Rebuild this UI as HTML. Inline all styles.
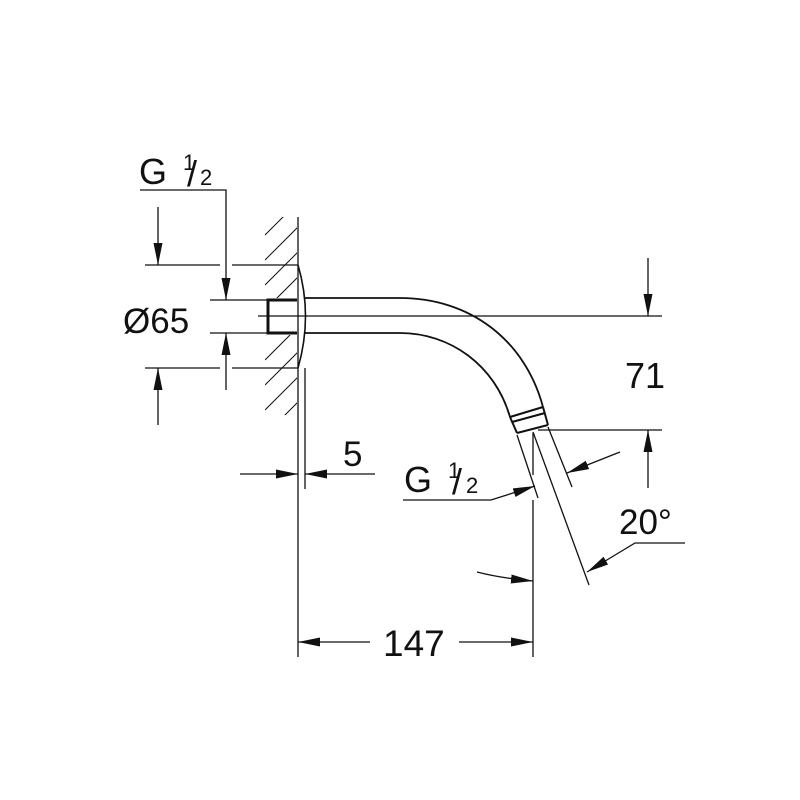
<!DOCTYPE html>
<html><head><style>body{margin:0;background:#fff}svg{display:block}text{font-family:"Liberation Sans",sans-serif;fill:#111}</style></head>
<body>
<svg width="800" height="800" viewBox="0 0 800 800" xmlns="http://www.w3.org/2000/svg">
<defs>
<marker id="a" viewBox="0 0 22 9" refX="22" refY="4.5" markerWidth="22" markerHeight="9" markerUnits="userSpaceOnUse" orient="auto"><path d="M0,0 L22,4.5 L0,9 Z" fill="#111"/></marker>
<clipPath id="hc"><rect x="265" y="217" width="32" height="198"/></clipPath>
</defs>
<g stroke="#111" fill="none" stroke-width="1.3">
<g clip-path="url(#hc)" stroke-width="1">
<path d="M265,235 l40,-40 M265,260 l40,-40 M265,285 l40,-40 M265,310 l40,-40 M265,335 l40,-40 M265,360 l40,-40 M265,385 l40,-40 M265,410 l40,-40 M265,435 l40,-40 M265,460 l40,-40"/>
</g>
<rect x="264" y="298" width="34" height="37" fill="#fff" stroke="none"/>
<line x1="298" y1="217" x2="298" y2="657"/>
<line x1="305" y1="368" x2="305" y2="489"/>
<path d="M298,265 Q313,316 298,368" stroke-width="1.6"/>
<path d="M297,300 H268 V333 H297" stroke-width="3"/>
<path d="M305,298 H400 C470,298 525,340 543,407" stroke-width="1.8"/>
<path d="M305,333 H400 C450,333 495,365 510,417" stroke-width="1.8"/>
<path d="M510,417 L543,407 M512,422 L545,413 M517,433 L548,425 M510,417 L517,433 M543,407 L548,425" stroke-width="2"/>
<line x1="258" y1="316" x2="662" y2="316"/>
<line x1="517" y1="435" x2="538" y2="498"/>
<line x1="548" y1="427" x2="572" y2="487"/>
<line x1="533" y1="432" x2="589" y2="585"/>
<line x1="533" y1="433" x2="533" y2="475"/>
<line x1="533" y1="500" x2="533" y2="657"/>
<line x1="538" y1="430" x2="662" y2="430"/>
<line x1="648" y1="258" x2="648" y2="316" marker-end="url(#a)"/>
<line x1="648" y1="488" x2="648" y2="430" marker-end="url(#a)"/>
<path d="M685,543 H635 L587,572" marker-end="url(#a)"/>
<line x1="620" y1="452" x2="567" y2="473" marker-end="url(#a)"/>
<path d="M477,572 Q500,578 533,581" marker-end="url(#a)"/>
<path d="M403,500 H491 L535,486" marker-end="url(#a)"/>
<line x1="370" y1="642" x2="298" y2="642" marker-end="url(#a)"/>
<line x1="459" y1="642" x2="533" y2="642" marker-end="url(#a)"/>
<line x1="240" y1="474" x2="298" y2="474" marker-end="url(#a)"/>
<line x1="375" y1="474" x2="305" y2="474" marker-end="url(#a)"/>
<path d="M140,190 H226 V300" marker-end="url(#a)"/>
<line x1="226" y1="390" x2="226" y2="333" marker-end="url(#a)"/>
<line x1="158" y1="207" x2="158" y2="265" marker-end="url(#a)"/>
<line x1="158" y1="425" x2="158" y2="368" marker-end="url(#a)"/>
<line x1="145" y1="265" x2="220" y2="265"/><line x1="232" y1="265" x2="298" y2="265"/>
<line x1="145" y1="368" x2="220" y2="368"/><line x1="232" y1="368" x2="298" y2="368"/>
<line x1="210" y1="300" x2="268" y2="300"/>
<line x1="210" y1="333" x2="268" y2="333"/>
</g>
<text x="139" y="184" font-size="36">G</text>
<text x="183" y="170" font-size="22">1</text>
<text x="187" y="186" font-size="36">/</text>
<text x="200" y="185" font-size="22">2</text>
<text x="123" y="333" font-size="35">Ø65</text>
<text x="343" y="466" font-size="35">5</text>
<text x="383" y="656" font-size="37">147</text>
<text x="625" y="388" font-size="36">71</text>
<text x="619" y="534" font-size="35">20°</text>
<text x="404" y="492" font-size="36">G</text>
<text x="448" y="478" font-size="22">1</text>
<text x="452" y="494" font-size="36">/</text>
<text x="466" y="493" font-size="22">2</text>
</svg>
</body></html>
